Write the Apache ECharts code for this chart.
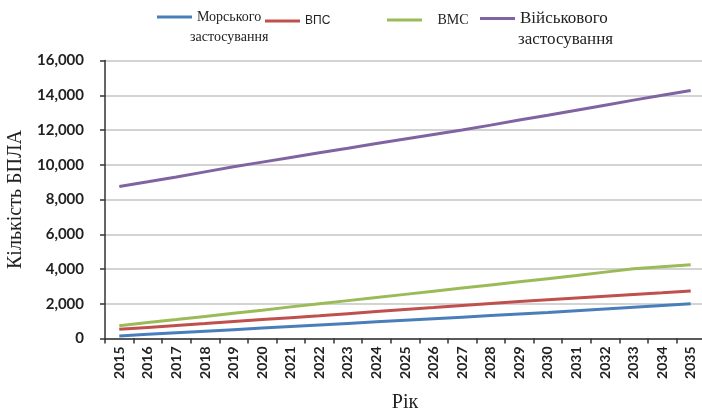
<!DOCTYPE html>
<html>
<head>
<meta charset="utf-8">
<script src="https://cdn.jsdelivr.net/npm/echarts@6/dist/echarts.min.js"></script>
<style>
  html, body { margin: 0; padding: 0; background: #fff; }
  #chart { width: 702px; height: 411px; }
</style>
</head>
<body>
<div id="chart"></div>
<script>
// Прогноз кількості БПЛА за роками
const years = ['2015','2016','2017','2018','2019','2020','2021','2022','2023','2024','2025',
               '2026','2027','2028','2029','2030','2031','2032','2033','2034','2035'];

const seriesNames = ['Морського', 'ВПС', 'ВМС', 'Військового'];

const marine   = [150, 240, 330, 420, 510, 600, 690, 780, 870, 960, 1050,
                  1140, 1230, 1320, 1410, 1500, 1600, 1700, 1800, 1900, 2000];
const airForce = [530, 640, 750, 860, 980, 1090, 1200, 1310, 1430, 1550, 1670,
                  1780, 1900, 2020, 2130, 2230, 2330, 2430, 2530, 2630, 2740];
const navy     = [740, 920, 1090, 1270, 1450, 1630, 1820, 2000, 2180, 2360, 2540,
                  2720, 2900, 3080, 3260, 3440, 3620, 3820, 4010, 4130, 4250];
const military = [8750, 9020, 9300, 9590, 9880, 10150, 10420, 10690, 10950, 11220, 11480,
                  11740, 12000, 12280, 12570, 12850, 13140, 13430, 13720, 14000, 14270];

const yTicks = { min: 0, max: 16000, interval: 2000 };

const colors = ['#4a7ebb', '#c0504d', '#9bbb59', '#8064a2'];
const values = [marine, airForce, navy, military];

const serif = 'Liberation Serif';
const sans = 'Liberation Sans';

function legendItem(name, left, top, font, size, prefix) {
  return {
    left: left, top: top,
    data: [name],
    icon: 'rect',
    itemWidth: 35, itemHeight: 3,
    selectedMode: false,
    padding: 0,
    formatter: n => (prefix || '') + n,
    textStyle: { fontFamily: font, fontSize: size, color: '#222' }
  };
}

const chart = echarts.init(document.getElementById('chart'), null, { renderer: 'canvas' });

chart.setOption({
  animation: false,
  backgroundColor: '#fff',
  color: colors,
  legend: [
    legendItem(seriesNames[0], 157, 10, serif, 14),
    legendItem(seriesNames[1], 265, 15, sans, 12),
    legendItem(seriesNames[2], 387, 13, serif, 14, '   '),
    legendItem(seriesNames[3], 480, 10, serif, 17)
  ],
  graphic: [
    { type: 'text', left: 190, top: 30,
      style: { text: 'застосування', font: '14px "Liberation Serif"', fill: '#222' } },
    { type: 'text', left: 518, top: 31,
      style: { text: 'застосування', font: '17px "Liberation Serif"', fill: '#222' } }
  ],
  grid: { left: 105, top: 60.5, width: 600, height: 278, containLabel: false, outerBoundsMode: 'none' },
  xAxis: {
    type: 'category',
    data: years,
    boundaryGap: true,
    name: 'Рік',
    nameLocation: 'middle',
    nameGap: 54,
    nameTextStyle: { fontFamily: serif, fontSize: 20, color: '#222' },
    axisLine: { lineStyle: { color: '#333', width: 1.5 } },
    axisTick: { show: true, length: 5, alignWithLabel: false, lineStyle: { color: '#333', width: 1.5 } },
    axisLabel: { rotate: 90, margin: 8, fontFamily: 'Lato', fontWeight: 'bold', fontSize: 14, color: '#222' },
    splitLine: { show: false }
  },
  yAxis: {
    type: 'value',
    min: yTicks.min, max: yTicks.max, interval: yTicks.interval,
    name: 'Кількість БПЛА',
    nameLocation: 'middle',
    nameRotate: 90,
    nameGap: 77,
    nameTextStyle: { fontFamily: serif, fontSize: 20, color: '#222' },
    axisLine: { show: true, lineStyle: { color: '#333', width: 1.5 } },
    axisTick: { show: true, length: 5, lineStyle: { color: '#333', width: 1.5 } },
    axisLabel: {
      margin: 21,
      fontFamily: 'Lato', fontWeight: 'bold', fontSize: 15, color: '#222',
      formatter: v => v.toLocaleString('en-US')
    },
    splitLine: { show: true, lineStyle: { color: '#c4c4c4', width: 1.5 } }
  },
  series: seriesNames.map((name, i) => ({
    name: name,
    type: 'line',
    data: values[i],
    symbol: 'none',
    smooth: false,
    lineStyle: { width: 3, color: colors[i] },
    itemStyle: { color: colors[i] }
  }))
});
</script>
</body>
</html>
